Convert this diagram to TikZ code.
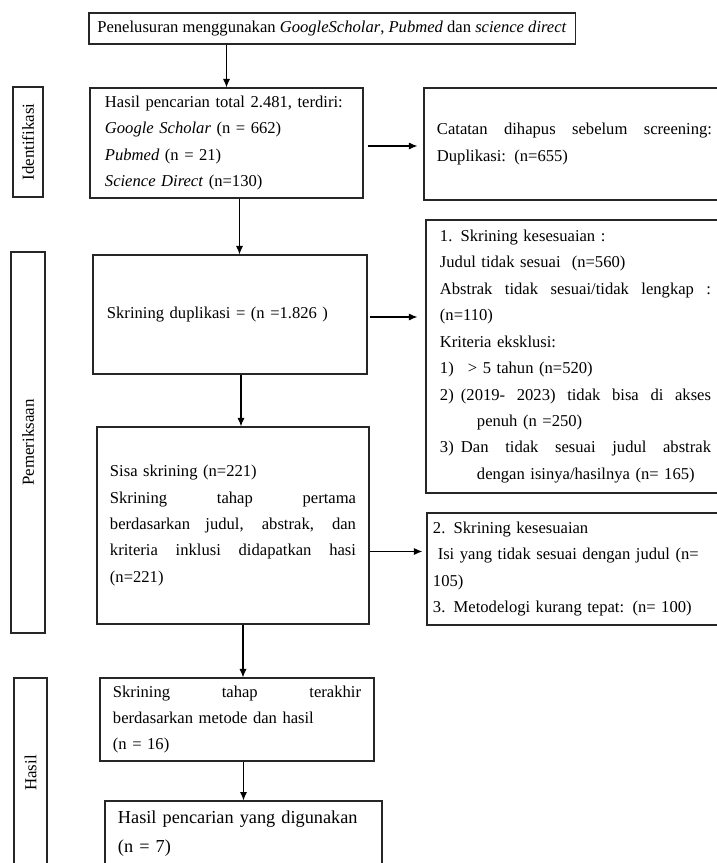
\documentclass[tikz,border=0pt]{standalone}
\usepackage{fontspec}
\setmainfont{Liberation Serif}
\usetikzlibrary{positioning,calc,arrows.meta}

% justified line of given width
\newcommand{\jline}[2]{\leavevmode\hbox to #1{\spaceskip=0.25em plus 1fil\relax #2}}

\begin{document}
\begin{tikzpicture}[
    x=0.025cm, y=-0.025cm,
    box/.style={draw=black!85, line width=0.8pt, rectangle, inner ysep=0pt, align=left, font=\fontsize{11.8}{18.8}\selectfont},
    side/.style={draw=black!85, line width=0.8pt, rectangle, inner sep=0pt, font=\fontsize{12}{15}\selectfont},
    edge/.style={-{Latex[length=6pt,width=5pt]}, line width=0.8pt, draw=black},
]
\useasboundingbox (0,0) rectangle (717,863);

% Search
\node[box, minimum width=12.15cm, minimum height=0.775cm, align=center] (search) at (332,28.5)
  {Penelusuran menggunakan \textit{GoogleScholar}, \textit{Pubmed} dan \textit{science direct}};

% Phase labels
\node[side, minimum width=0.75cm, minimum height=2.75cm] (ident) at (28,142) {\rotatebox{90}{Identifikasi}};
\node[side, minimum width=0.85cm, minimum height=9.525cm] (periksa) at (28,442.5) {\rotatebox{90}{Pemeriksaan}};
\node[side, minimum width=0.825cm, minimum height=4.75cm] (hasilside) at (30.5,773) {\rotatebox{90}{Hasil}};

% Main column
\node[box, minimum width=6.825cm, minimum height=2.75cm, text width=6.075cm, inner xsep=0.375cm] (hasil) at (226.5,143) {
  Hasil pencarian total 2.481, terdiri:\\
  \textit{Google Scholar} (n = 662)\\
  \textit{Pubmed} (n = 21)\\
  \textit{Science Direct} (n=130)};

\node[box, minimum width=6.85cm, minimum height=2.975cm, text width=6.15cm, inner xsep=0.35cm] (dup) at (230,314.5) {
  Skrining duplikasi = (n =1.826 )};

\node[box, minimum width=6.8cm, minimum height=4.925cm, text width=6.15cm, inner xsep=0.325cm] (sisa) at (233,525.5) {
  Sisa skrining (n=221)\\
  \jline{6.15cm}{Skrining tahap pertama}\\
  \jline{6.15cm}{berdasarkan judul, abstrak, dan}\\
  \jline{6.15cm}{kriteria inklusi didapatkan hasi}\\
  (n=221)};

\node[box, minimum width=6.85cm, minimum height=2.075cm, text width=6.2cm, inner xsep=0.325cm] (akhir) at (237,719.5) {
  \jline{6.2cm}{Skrining tahap terakhir}\\
  berdasarkan metode dan hasil\\
  (n = 16)};

\node[box, minimum width=6.925cm, minimum height=1.625cm, text width=6.275cm, inner xsep=0.325cm,
  font=\fontsize{13}{20.6}\selectfont] (final) at (243.5,833.5) {
  Hasil pencarian yang digunakan\\
  (n = 7)};

% Excluded records
\node[box, minimum width=7.525cm, minimum height=2.8cm, text width=6.875cm, inner xsep=0.325cm] (catatan) at (574.5,144) {
  \jline{6.875cm}{Catatan dihapus sebelum screening:}\\
  Duplikasi: (n=655)};

\node[box, minimum width=7.475cm, minimum height=6.825cm, text width=6.775cm, inner xsep=0.35cm] (screen1) at (575.5,356.5) {
  1. Skrining kesesuaian :\\
  Judul tidak sesuai \ (n=560)\\
  \jline{6.775cm}{Abstrak tidak sesuai/tidak lengkap :}\\
  (n=110)\\
  Kriteria eksklusi:\\
  \makebox[0.7cm][l]{1)}> 5 tahun (n=520)\\
  \makebox[0.525cm][l]{2)}\jline{6.25cm}{(2019- 2023) tidak bisa di akses}\\
  \hspace*{0.925cm}penuh (n =250)\\
  \makebox[0.525cm][l]{3)}\jline{6.25cm}{Dan tidak sesuai judul abstrak}\\
  \hspace*{0.925cm}dengan isinya/hasilnya (n= 165)};

\node[box, minimum width=7.45cm, minimum height=2.8cm, text width=7.15cm, inner xsep=0.15cm] (screen2) at (576,569) {
  2. Skrining kesesuaian\\
  \hspace*{0.12cm}Isi yang tidak sesuai dengan judul (n=\\
  105)\\
  3. Metodelogi kurang tepat: (n= 100)};

% Arrows down
\coordinate (d1) at ($(hasil.south)+(13,0)$);
\coordinate (d2) at ($(dup.south)+(11,0)$);
\coordinate (d3) at ($(sisa.south)+(10,0)$);

\draw[edge] (search.south -| hasil.north) -- (hasil.north);
\draw[edge] (d1) -- (d1 |- dup.north);
\draw[edge] (d2) -- (d2 |- sisa.north);
\draw[edge] (d3) -- (d3 |- akhir.north);
\draw[edge] (akhir.south -| final.north) -- (final.north);

% Arrows right
\coordinate (r3) at ($(sisa.east)+(0,26)$);

\draw[edge, shorten <=0.1cm, shorten >=0.15cm] ($(hasil.east)+(0,3)$) -- ($(hasil.east -| catatan.west)+(0,3)$);
\draw[edge, shorten <=0.05cm, shorten >=0.2cm] ($(dup.east)+(0,2.5)$) -- ($(dup.east -| screen1.west)+(0,2.5)$);
\draw[edge, shorten >=0.1cm] (r3) -- (r3 -| screen2.west);

\end{tikzpicture}
\end{document}
